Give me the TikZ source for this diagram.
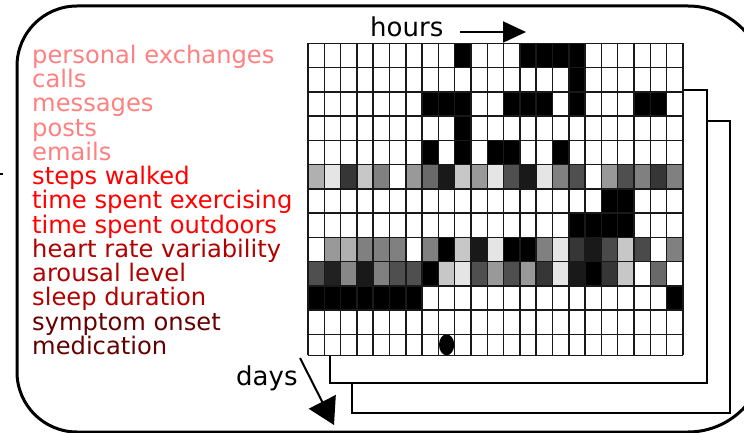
\documentclass[tikz,border=0pt]{standalone}
\usepackage{fontspec}
\setmainfont{DejaVu Sans}
\usetikzlibrary{arrows.meta}
\definecolor{lightred}{HTML}{FF8080}
\definecolor{midred}{HTML}{FF0000}
\definecolor{darkredA}{HTML}{B00000}
\definecolor{darkredB}{HTML}{640000}
\newcommand{\gx}[1]{308+16.3*#1}
\newcommand{\gy}[1]{43.3+24.25*#1}
\begin{document}
\begin{tikzpicture}[x=1pt,y=-1pt,
  lbl/.style={anchor=base west,inner sep=0pt,font=\fontsize{24.2}{28}\selectfont},
  axislbl/.style={anchor=base west,inner sep=0pt,font=\fontsize{26}{30}\selectfont},
  frame/.style={draw=black,fill=white,line width=2.4pt},
  gridline/.style={draw=black!90,line width=1.5pt},
  axisarrow/.style={line width=2pt}]
\useasboundingbox (0,0) rectangle (744,433);
% outer rounded frame
\begin{scope}
\clip (0,0) rectangle (744,433);
\draw[line width=3pt] (77,6) -- (688,6) arc (270:360:77) -- (765,355) arc (0:90:77)
  -- (77,432) arc (90:180:60) -- (17,66) arc (180:270:60) -- cycle;
\end{scope}
% small mark on the left
\draw[line width=2pt] (0,174) -- (3,174);
% stacked frames
\draw[frame] (352,121) rectangle (730,413);
\draw[frame] (330,90) rectangle (707,383);
% grid background
\fill[white] (308,43.3) rectangle (683,355.3);
% black cells
\foreach \r/\c in {0/9,0/13,0/14,0/15,0/16,1/16,
  2/7,2/8,2/9,2/12,2/13,2/14,2/16,2/20,2/21,3/9,
  4/7,4/9,4/11,4/12,4/15,6/18,6/19,7/16,7/17,7/18,7/19,
  10/0,10/1,10/2,10/3,10/4,10/5,10/6,10/22}
  \fill[black] ({\gx{\c}},{\gy{\r}}) rectangle ++(16.3,24.25);
% gray rows
\foreach \p [count=\c from 0] in {31,10,79,22,50,0,40,59,90,22,40,10,69,90,10,50,69,0,40,69,50,79,50}
  \fill[black!\p] ({\gx{\c}},{\gy{5}}) rectangle ++(16.3,24.25);
\foreach \p [count=\c from 0] in {0,40,31,50,50,50,0,50,100,22,90,10,100,100,50,10,79,90,71,22,71,0,50}
  \fill[black!\p] ({\gx{\c}},{\gy{8}}) rectangle ++(16.3,24.25);
\foreach \p [count=\c from 0] in {69,87,47,90,50,69,69,100,22,10,69,40,69,40,79,10,90,100,79,22,0,59,0}
  \fill[black!\p] ({\gx{\c}},{\gy{9}}) rectangle ++(16.3,24.25);
% medication dot
\fill[black] (446.6,344.8) ellipse [x radius=7.6, y radius=10.5];
% grid lines
\foreach \c in {0,...,23}
  \draw[gridline] ({\gx{\c}},43.3) -- ({\gx{\c}},355.3);
\foreach \r in {0,...,12}
  \draw[gridline] (308,{\gy{\r}}) -- (683,{\gy{\r}});
\draw[gridline] (308,355.3) -- (683,355.3);
% labels
\foreach \t/\col [count=\i from 0] in {personal exchanges/lightred,calls/lightred,messages/lightred,posts/lightred,emails/lightred,
  steps walked/midred,time spent exercising/midred,time spent outdoors/midred,
  heart rate variability/darkredA,arousal level/darkredA,sleep duration/darkredA,
  symptom onset/darkredB,medication/darkredB}
  \node[lbl,text=\col] (l\i) at (32,{\gy{\i}+20}) {\t};
% axis labels and arrows
\node[axislbl] (hours) at (370,36.7) {hours};
\coordinate (hs) at (460,32);
\coordinate (he) at (526,32);
\draw[axisarrow,-{Triangle[length=23pt,width=21pt]}] (hs) -- (he);
\node[axislbl] (days) at (236,385) {days};
\coordinate (ds) at (300,358);
\coordinate (de) at (334,425);
\draw[axisarrow,-{Triangle[length=26pt,width=30pt]}] (ds) -- (de);
\end{tikzpicture}
\end{document}
